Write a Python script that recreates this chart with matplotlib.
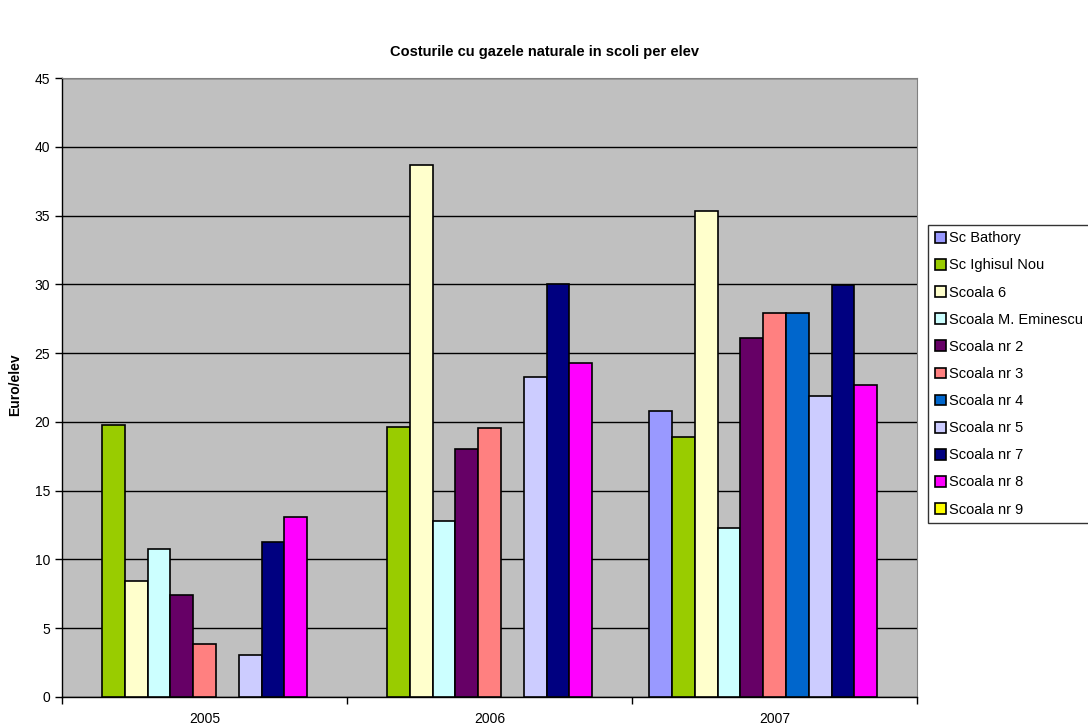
import matplotlib.pyplot as plt
import numpy as np

plt.rcParams['font.family'] = ['Liberation Sans', 'DejaVu Sans']

# date
ani = ["2005", "2006", "2007"]
scoli = ["Sc Bathory", "Sc Ighisul Nou", "Scoala 6", "Scoala M. Eminescu",
         "Scoala nr 2", "Scoala nr 3", "Scoala nr 4", "Scoala nr 5",
         "Scoala nr 7", "Scoala nr 8", "Scoala nr 9"]
sc_bathory = [0, 0, 20.8]
sc_ighisul = [19.8, 19.6, 18.9]
scoala_6 = [8.4, 38.7, 35.3]
scoala_eminescu = [10.75, 12.8, 12.3]
scoala_nr2 = [7.4, 18.05, 26.1]
scoala_nr3 = [3.85, 19.55, 27.9]
scoala_nr4 = [0, 0, 27.9]
scoala_nr5 = [3.05, 23.25, 21.9]
scoala_nr7 = [11.25, 30.0, 29.95]
scoala_nr8 = [13.05, 24.25, 22.7]
scoala_nr9 = [0, 0, 0]

culori = ["#9999FF", "#99CC00", "#FFFFCC", "#CCFFFF", "#660066", "#FF8080",
          "#0066CC", "#CCCCFF", "#000080", "#FF00FF", "#FFFF00"]

serii = [sc_bathory, sc_ighisul, scoala_6, scoala_eminescu, scoala_nr2,
         scoala_nr3, scoala_nr4, scoala_nr5, scoala_nr7, scoala_nr8, scoala_nr9]

fig = plt.figure(figsize=(10.88, 7.27), dpi=100)
ax = fig.add_axes([62/1088, 1-697/727, (917-62)/1088, (697-78)/727])
ax.set_facecolor("#C0C0C0")

x = np.arange(len(ani))
n = len(serii)
w = 1.0 / (n + 1.5)
for i in range(n):
    pos = x - w * n / 2 + w * (i + 0.5)
    # valorile 0 nu se deseneaza
    h = np.array(serii[i], dtype=float)
    h[h == 0] = np.nan
    ax.bar(pos, h, width=w, color=culori[i], edgecolor="black",
           linewidth=1.2, label=scoli[i], zorder=3)

ax.set_xlim(-0.5, 2.5)
ax.set_ylim(0, 45)
ax.set_yticks(range(0, 46, 5))
ax.yaxis.grid(True, color="black", linewidth=1, zorder=1)
ax.set_xticks(x)
ax.set_xticklabels(ani)
ax.tick_params(axis='x', which='major', length=0, labelsize=10, pad=11)
ax.set_xticks([-0.5, 0.5, 1.5, 2.5], minor=True)
ax.tick_params(axis='x', which='minor', length=5, width=1, direction='out')
ax.tick_params(axis='y', length=5, width=1, direction='out', labelsize=10)

for s in ["top", "right"]:
    ax.spines[s].set_color("#808080")
for s in ["left", "bottom"]:
    ax.spines[s].set_color("black")
    ax.spines[s].set_linewidth(1)

fig.text(0.5, 1-52/727, "Costurile cu gazele naturale in scoli per elev",
         ha="center", va="center", fontsize=10.5, fontweight="bold")
fig.text(15/1088, 1-385/727, "Euro/elev", rotation=90, ha="center",
         va="center", fontsize=10, fontweight="bold")

leg = fig.legend(loc="center left", bbox_to_anchor=(928/1088, 1-374/727),
                 fontsize=10.5, frameon=True, fancybox=False, edgecolor="black",
                 handlelength=0.75, handleheight=0.75, handletextpad=0.25,
                 labelspacing=0.9, borderaxespad=0, borderpad=0.45)
leg.get_frame().set_linewidth(1)

fig.savefig("out.png", dpi=100)
